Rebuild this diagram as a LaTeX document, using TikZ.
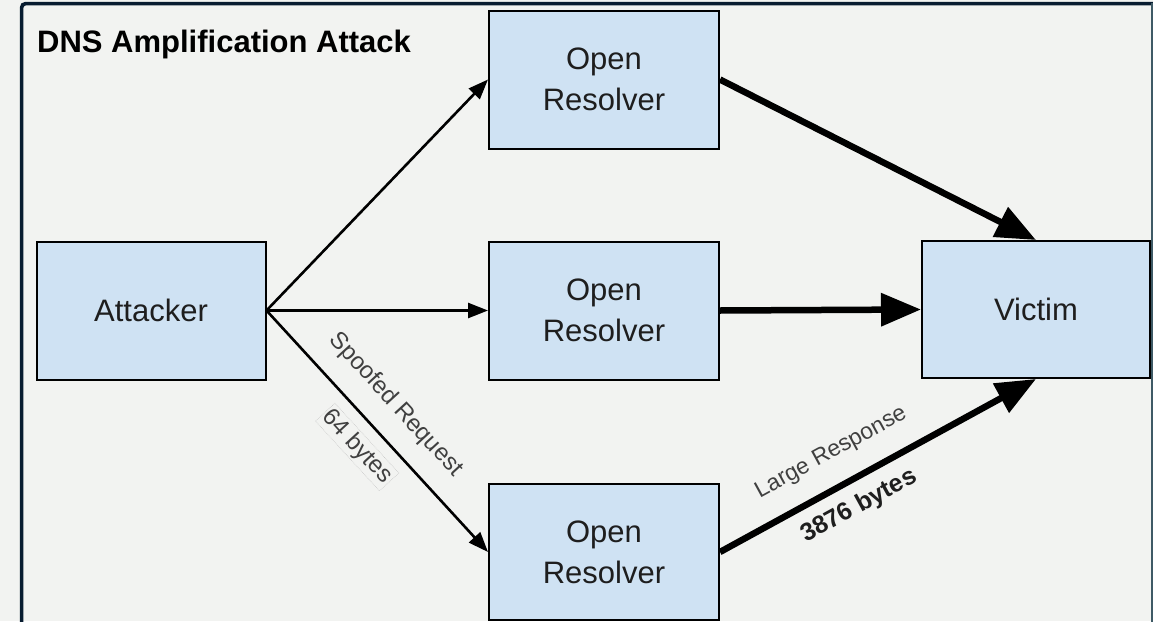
\documentclass[tikz,border=0pt]{standalone}
\usepackage{fontspec}
\setmainfont{Liberation Sans}
\usetikzlibrary{arrows.meta}
\definecolor{bg}{HTML}{F2F3F1}
\definecolor{boxfill}{HTML}{CFE2F3}
\definecolor{framec}{HTML}{081C30}
\definecolor{edgeR}{HTML}{3E5A66}
\definecolor{txt}{HTML}{1E1E1E}
\begin{document}
\begin{tikzpicture}[x=1pt,y=-1pt,
  box/.style={draw=black, line width=2pt, fill=boxfill, minimum width=229pt, minimum height=138pt, inner sep=0pt, align=center, text=txt, font=\fontsize{31}{41}\selectfont},
  thinarrow/.style={line width=2.6pt, -{Triangle[length=20pt,width=15pt]}},
  thickarrow/.style={line width=6.5pt, -{Triangle[length=40pt,width=32pt]}},
  lbl/.style={inner sep=0pt, text=txt!85, font=\fontsize{23}{27}\selectfont},
]
\fill[bg] (0,0) rectangle (1153,621);
\useasboundingbox (0,0) rectangle (1153,621);
\draw[framec, line width=3.6pt, rounded corners=4pt] (21.6,625) -- (21.6,3.6) -- (1156,3.6);
\draw[edgeR, line width=1.8pt] (1152.2,3) -- (1152.2,625);

\node[anchor=base west, inner sep=0pt, text=black, font=\bfseries\fontsize{31}{37}\selectfont] (title) at (37,52) {DNS Amplification Attack};

\node[box] (atk) at (151,310.5) {Attacker};
\node[box, minimum width=230pt] (r1) at (604,79.5) {Open\\Resolver};
\node[box, minimum width=230pt] (r2) at (604,310.5) {Open\\Resolver};
\node[box, minimum width=230pt, minimum height=136pt] (r3) at (604,552) {Open\\Resolver};
\node[box, minimum width=228pt, minimum height=137pt] (vic) at (1036,309.5) {Victim};

\draw[thinarrow] (atk.east) -- (r1.west);
\draw[thinarrow] (atk.east) -- (r2.west);
\draw[thinarrow] (atk.east) -- (r3.west)
  node[lbl, pos=0.478, sloped, above=19pt, font=\fontsize{24}{28}\selectfont] {Spoofed Request}
  node[lbl, pos=0.494, sloped, below=12pt, inner sep=2pt, draw=gray!45, densely dotted, line width=0.6pt, font=\fontsize{24}{28}\selectfont] {64 bytes};

\draw[thickarrow] (r1.east) -- (vic.north);
\draw[thickarrow] (r2.east) -- (vic.west);
\draw[thickarrow] (r3.east) -- (vic.south)
  node[lbl, pos=0.403, sloped, above=20pt] {Large Response}
  node[lbl, pos=0.40, sloped, below=11.8pt, text=txt, font=\bfseries\fontsize{25}{30}\selectfont] {3876 bytes};
\end{tikzpicture}
\end{document}
